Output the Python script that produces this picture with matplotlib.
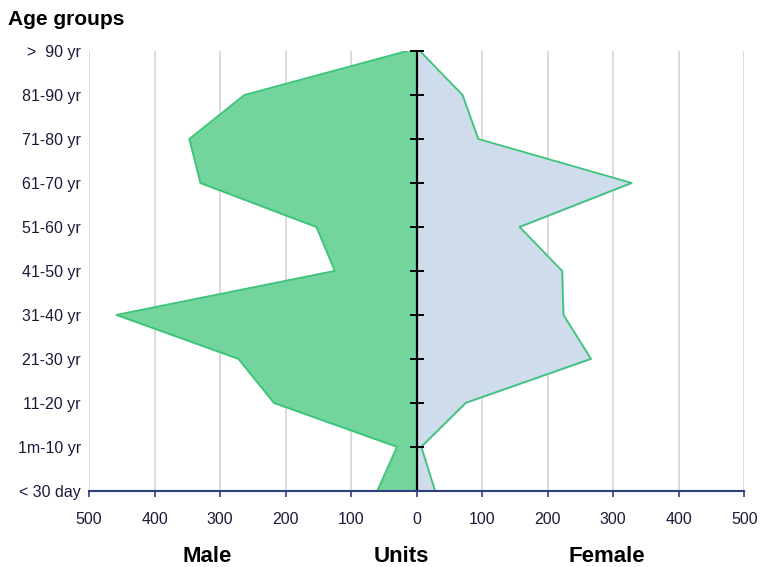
import matplotlib.pyplot as plt
import numpy as np

plt.rcParams['font.family'] = ['Liberation Sans', 'DejaVu Sans']

age_groups = ['< 30 day', '1m-10 yr', '11-20 yr', '21-30 yr', '31-40 yr',
              '41-50 yr', '51-60 yr', '61-70 yr', '71-80 yr', '81-90 yr', '>  90 yr']
male = [60, 30, 218, 272, 458, 125, 153, 330, 347, 263, 15]
female = [28, 7, 75, 266, 224, 222, 157, 328, 94, 70, 5]
xticks = [-500, -400, -300, -200, -100, 0, 100, 200, 300, 400, 500]

pos = np.arange(len(age_groups))
edge = '#3cc47a'

fig = plt.figure(figsize=(7.61, 5.67), dpi=100)
ax = fig.add_axes([0.117, 0.1345, 0.861, 0.7755])

ax.fill_betweenx(pos, 0, -np.array(male), color='#74d49e', zorder=2)
ax.plot(-np.array(male), pos, color=edge, lw=1.3, zorder=3)
ax.fill_betweenx(pos, 0, female, color='#cfdcec', zorder=2)
ax.plot(female, pos, color=edge, lw=1.3, zorder=3)

ax.set_xlim(-500, 500)
ax.set_ylim(0, len(age_groups) - 1)

# vertical grid
for x in xticks:
    if x != 0:
        ax.axvline(x, color='#d4d4d4', lw=1.2, zorder=1)

ax.set_xticks(xticks)
ax.set_xticklabels([str(abs(v)) for v in xticks], fontsize=11.5, color='#1a1a3a')
ax.tick_params(axis='x', direction='out', length=4, width=1.2, color='#2e3f7f', pad=11)

ax.set_yticks(pos)
ax.set_yticklabels(age_groups, fontsize=11.5, color='#1a1a3a')
ax.tick_params(axis='y', length=0, pad=6)

for s in ['top', 'right', 'left']:
    ax.spines[s].set_visible(False)
ax.spines['bottom'].set_color('#2e3f7f')
ax.spines['bottom'].set_linewidth(1.5)
ax.spines['bottom'].set_zorder(5)

# centre axis with crossing ticks
ax.axvline(0, color='black', lw=1.6, zorder=4)
ax.plot(np.zeros(len(pos) - 1), pos[1:], ls='none', marker='_',
        markersize=10, mew=1.4, color='black', zorder=6, clip_on=False)

fig.text(0.011, 0.965, 'Age groups', fontsize=15, fontweight='bold', va='center')
fig.text(0.272, 0.018, 'Male', fontsize=16, fontweight='bold', ha='center', va='center')
fig.text(0.527, 0.018, 'Units', fontsize=16, fontweight='bold', ha='center', va='center')
fig.text(0.798, 0.018, 'Female', fontsize=16, fontweight='bold', ha='center', va='center')

fig.savefig('out.png', dpi=100)
